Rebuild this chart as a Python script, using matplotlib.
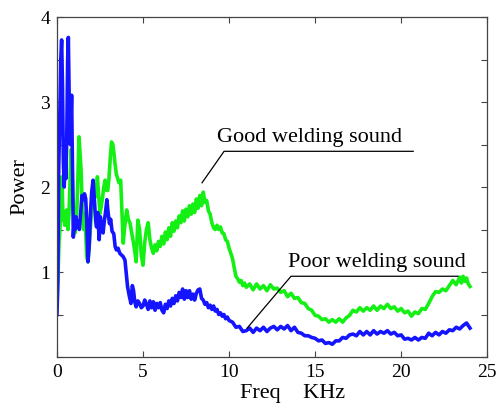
import matplotlib
matplotlib.use("Agg")
import matplotlib.pyplot as plt

freq_poor = [0.0, 0.05, 0.1, 0.17, 0.22, 0.27, 0.32, 0.37, 0.42, 0.47, 0.52, 0.57, 0.62, 0.66, 0.72, 0.78, 0.85, 0.9, 0.95,
             1.0, 1.05, 1.1, 1.15, 1.2, 1.3, 1.38, 1.45, 1.52, 1.6, 1.67, 1.73, 1.8, 1.87, 1.95, 2.02, 2.1, 2.17, 2.25, 2.3,
             2.37, 2.45, 2.52, 2.6, 2.68, 2.75, 2.82, 2.9, 2.97, 3.05, 3.12, 3.2, 3.3, 3.38, 3.45, 3.55, 3.65, 3.75, 3.85,
             3.95, 4.02, 4.1, 4.2, 4.3, 4.38, 4.45, 4.52, 4.6, 4.7, 4.8, 4.9,
             5.0, 5.1, 5.2, 5.3, 5.4, 5.5, 5.6, 5.7, 5.8, 5.9, 6.0, 6.1, 6.2, 6.3, 6.4, 6.5, 6.6, 6.7, 6.8, 6.9,
             7.0, 7.1, 7.2, 7.3, 7.4, 7.5, 7.6, 7.7, 7.8, 7.9, 8.0, 8.1, 8.2, 8.3, 8.4, 8.5, 8.6, 8.7, 8.8, 8.9,
             9.0, 9.1, 9.2, 9.3, 9.4, 9.5, 9.6, 9.7, 9.8, 9.9, 10.0,
             10.2, 10.4, 10.6, 10.8, 11.0, 11.2, 11.4, 11.6, 11.8, 12.0, 12.2, 12.4, 12.6, 12.8,
             13.0, 13.2, 13.4, 13.6, 13.8, 14.0, 14.2, 14.4, 14.6, 14.8, 15.0, 15.2, 15.4, 15.6, 15.8,
             16.0, 16.2, 16.4, 16.6, 16.8, 17.0, 17.2, 17.4, 17.6, 17.8, 18.0, 18.2, 18.4, 18.6, 18.8,
             19.0, 19.2, 19.4, 19.6, 19.8, 20.0, 20.2, 20.4, 20.6, 20.8, 21.0, 21.2, 21.4, 21.6, 21.8,
             22.0, 22.2, 22.4, 22.6, 22.8, 23.0, 23.2, 23.4, 23.6, 23.8, 24.0]
power_poor = [0.50, 0.9, 2.2, 2.9, 3.5, 3.73, 3.2, 2.3, 2.0, 2.3, 2.1, 2.6, 3.5, 3.76, 2.9, 2.5, 3.08, 2.2, 1.41,
              1.6, 1.5, 1.65, 1.55, 1.6, 1.5, 1.7, 1.9, 1.85, 1.92, 1.86, 1.6, 1.12, 1.3, 1.7, 1.95, 2.08, 1.85, 1.6, 1.53,
              1.7, 1.38, 1.65, 1.5, 1.46, 1.6, 1.7, 1.85, 1.7, 1.57, 1.62, 1.48, 1.45, 1.3, 1.26, 1.28, 1.22, 1.2, 1.18,
              1.14, 1.0, 0.83, 0.72, 0.63, 0.84, 0.78, 0.65, 0.59, 0.66, 0.63, 0.58,
              0.6, 0.67, 0.62, 0.56, 0.66, 0.58, 0.65, 0.55, 0.63, 0.58, 0.64, 0.55, 0.52, 0.62, 0.57, 0.66, 0.6, 0.69, 0.63, 0.72,
              0.66, 0.76, 0.7, 0.8, 0.68, 0.78, 0.7, 0.78, 0.68, 0.74, 0.67, 0.75, 0.79, 0.8, 0.69, 0.67, 0.62, 0.64, 0.58, 0.61,
              0.56, 0.6, 0.54, 0.56, 0.5, 0.52, 0.48, 0.5, 0.45, 0.47, 0.43,
              0.41, 0.35, 0.36, 0.30, 0.31, 0.34, 0.29, 0.34, 0.31, 0.35, 0.30, 0.34, 0.36, 0.32,
              0.36, 0.33, 0.37, 0.31, 0.35, 0.29, 0.28, 0.25, 0.25, 0.23, 0.22, 0.19, 0.2, 0.16, 0.17,
              0.15, 0.19, 0.19, 0.23, 0.22, 0.26, 0.27, 0.25, 0.3, 0.26, 0.3, 0.26, 0.31, 0.27, 0.3,
              0.28, 0.31, 0.27, 0.29, 0.25, 0.26, 0.21, 0.22, 0.2, 0.23, 0.2, 0.23, 0.22, 0.28, 0.25,
              0.29, 0.26, 0.3, 0.28, 0.32, 0.31, 0.35, 0.33, 0.37, 0.4, 0.34]

freq_good = [0.0, 0.05, 0.12, 0.17, 0.22, 0.29, 0.35, 0.4, 0.45, 0.5, 0.56, 0.6, 0.64, 0.7, 0.75, 0.82, 0.87, 0.92, 0.97,
             1.05, 1.1, 1.15, 1.2, 1.28, 1.34, 1.4, 1.45, 1.5, 1.55, 1.62, 1.68, 1.73, 1.8, 1.87, 1.95, 2.0, 2.08, 2.15,
             2.22, 2.3, 2.35, 2.42, 2.5, 2.58, 2.65, 2.72, 2.8, 2.88, 2.95, 3.02, 3.1, 3.17, 3.25, 3.32, 3.37, 3.45, 3.5,
             3.6, 3.7, 3.78, 3.85, 3.92, 4.0, 4.05, 4.15, 4.25, 4.35, 4.45, 4.55, 4.6, 4.7, 4.8, 4.9,
             5.0, 5.1, 5.2, 5.3, 5.4, 5.5, 5.6, 5.7, 5.8, 5.9, 6.0, 6.1, 6.2, 6.3, 6.4, 6.5, 6.6, 6.7, 6.8, 6.9,
             7.0, 7.1, 7.2, 7.3, 7.4, 7.5, 7.6, 7.7, 7.8, 7.9, 8.0, 8.1, 8.2, 8.3, 8.4, 8.5, 8.6, 8.7, 8.8, 8.9,
             9.0, 9.1, 9.2, 9.3, 9.4, 9.5, 9.6, 9.7, 9.8, 9.9, 10.0,
             10.1, 10.2, 10.3, 10.4, 10.5, 10.6, 10.7, 10.8, 10.9, 11.0,
             11.2, 11.4, 11.6, 11.8, 12.0, 12.2, 12.4, 12.6, 12.8,
             13.0, 13.2, 13.4, 13.6, 13.8, 14.0, 14.2, 14.4, 14.6, 14.8, 15.0, 15.2, 15.4, 15.6, 15.8,
             16.0, 16.2, 16.4, 16.6, 16.8, 17.0, 17.2, 17.4, 17.6, 17.8, 18.0, 18.2, 18.4, 18.6, 18.8,
             19.0, 19.2, 19.4, 19.6, 19.8, 20.0, 20.2, 20.4, 20.6, 20.8, 21.0, 21.2, 21.4, 21.6, 21.8,
             22.0, 22.2, 22.4, 22.6, 22.8, 23.0, 23.2, 23.4, 23.5, 23.6, 23.7, 23.8, 23.9, 24.0]
power_good = [0.59, 0.9, 1.35, 1.5, 1.8, 2.12, 1.61, 1.7, 1.55, 1.65, 1.73, 1.6, 1.5, 1.7, 2.0, 2.44, 2.32, 1.9, 1.69,
              1.46, 1.55, 1.69, 2.0, 2.59, 2.4, 2.2, 1.88, 1.6, 1.5, 1.69, 1.4, 1.18, 1.12, 1.3, 1.55, 1.69, 1.8, 1.92,
              1.88, 2.0, 2.12, 1.9, 1.69, 1.78, 1.88, 2.0, 2.08, 1.96, 1.96, 2.1, 2.35, 2.53, 2.5, 2.38, 2.28, 2.15, 2.12,
              2.05, 2.08, 1.7, 1.34, 1.5, 1.65, 1.73, 1.62, 1.57, 1.45, 1.34, 1.2, 1.12, 1.61, 1.5, 1.2,
              1.08, 1.35, 1.5, 1.58, 1.38, 1.28, 1.22, 1.32, 1.25, 1.36, 1.3, 1.42, 1.33, 1.47, 1.38, 1.52, 1.42, 1.58, 1.48, 1.6,
              1.52, 1.66, 1.58, 1.72, 1.6, 1.74, 1.65, 1.78, 1.68, 1.8, 1.7, 1.86, 1.75, 1.9, 1.78, 1.94, 1.82, 1.84, 1.72, 1.68,
              1.58, 1.52, 1.5, 1.55, 1.5, 1.53, 1.46, 1.45, 1.38, 1.36, 1.28,
              1.22, 1.16, 1.05, 0.95, 0.92, 0.88, 0.9, 0.84, 0.87, 0.82,
              0.86, 0.79, 0.86, 0.8, 0.84, 0.78, 0.85, 0.8, 0.81,
              0.76, 0.78, 0.71, 0.75, 0.69, 0.7, 0.64, 0.63, 0.57, 0.55, 0.49, 0.48, 0.44, 0.45, 0.41,
              0.44, 0.41, 0.45, 0.41, 0.46, 0.49, 0.55, 0.53, 0.58, 0.54, 0.58, 0.55, 0.6, 0.55, 0.6,
              0.57, 0.62, 0.57, 0.59, 0.54, 0.57, 0.52, 0.54, 0.48, 0.53, 0.51, 0.57, 0.56, 0.63, 0.71,
              0.77, 0.76, 0.8, 0.78, 0.84, 0.9, 0.85, 0.94, 0.87, 0.95, 0.89, 0.93, 0.86, 0.83]

assert len(freq_poor) == len(power_poor)
assert len(freq_good) == len(power_good)

x_ticks = [0, 5, 10, 15, 20, 25]
y_ticks = [0, 0.5, 1, 1.5, 2, 2.5, 3, 3.5, 4]
y_tick_labels = ["", "", "1", "", "2", "", "3", "", "4"]

plt.rcParams['font.family'] = ['Liberation Serif', 'DejaVu Serif']

fig = plt.figure(figsize=(5.02, 4.05), dpi=100)
ax = fig.add_axes([0.1135, 0.1185, 0.857, 0.8395])

ax.plot(freq_good, power_good, color='#14f014', lw=2.6, solid_joinstyle='round')
ax.plot(freq_poor, power_poor, color='#1414ff', lw=2.6, solid_joinstyle='round')

ax.set_xlim(0, 25)
ax.set_ylim(0, 4)
ax.set_xticks(x_ticks)
ax.set_yticks(y_ticks)
ax.set_yticklabels(y_tick_labels)
ax.tick_params(direction='in', length=4, width=0.8, color='#444444', labelsize=14,
               top=True, right=True, pad=5)
for s in ax.spines.values():
    s.set_color('#444444')
    s.set_linewidth(0.9)

ax.set_ylabel('Power', fontsize=16)
ax.yaxis.set_label_coords(-0.065, 0.5)
ax.set_xlabel('Freq    KHz', fontsize=16)
ax.xaxis.set_label_coords(0.547, -0.08)

# annotations
ax.plot([8.43, 9.71, 20.7], [2.05, 2.42, 2.42], color='black', lw=0.9)
ax.text(9.3, 2.47, 'Good welding sound', fontsize=16, ha='left', va='bottom')
ax.plot([11.05, 13.6, 23.3], [0.34, 0.95, 0.95], color='black', lw=0.9)
ax.text(13.4, 1.0, 'Poor welding sound', fontsize=16, ha='left', va='bottom')

fig.savefig('out.png', dpi=100)
